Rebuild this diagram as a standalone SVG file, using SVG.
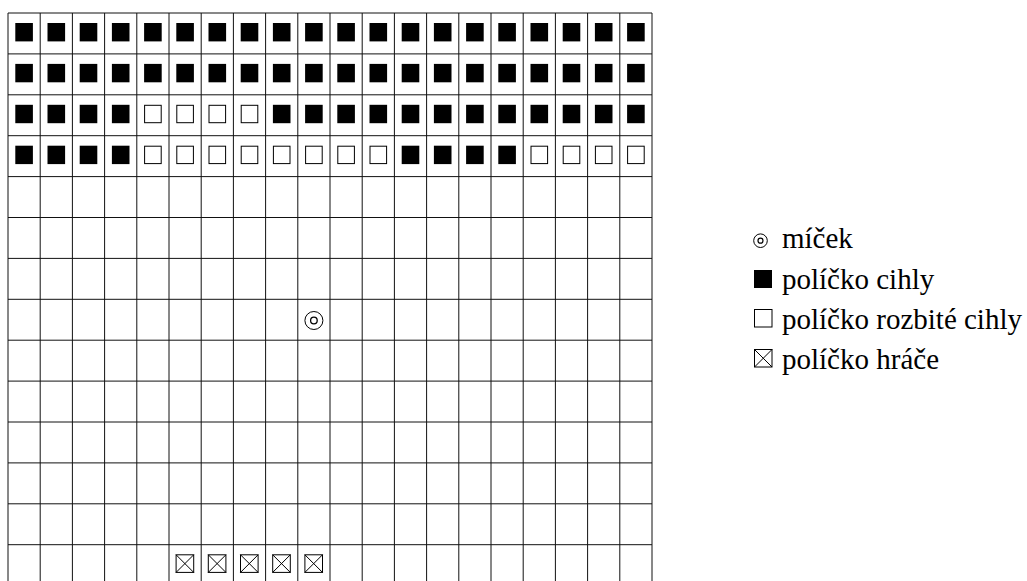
<svg xmlns="http://www.w3.org/2000/svg" xmlns:xlink="http://www.w3.org/1999/xlink" width="1027" height="581" viewBox="0 0 1027 581">
<style>
.grid{stroke:#111;stroke-width:1;fill:none}
.lbl{font-family:"Liberation Serif","DejaVu Serif",serif;font-size:29px;fill:#000}
.sym{fill:none;stroke:#000;stroke-width:1}
</style>
<defs>
<rect id="brick" width="17.6" height="18.4" fill="#000"/>
<rect id="empty" x="0.5" y="0.5" width="16.6" height="17.4" class="sym"/>
<g id="player" class="sym"><rect x="0.5" y="0.5" width="17.6" height="17.6"/><path d="M0.5 0.5L18.1 18.1M18.1 0.5L0.5 18.1"/></g>
</defs>
<rect width="1027" height="581" fill="#fff"/>
<g id="grid" class="grid">
<path d="M8 13V586M40.2 13V586M72.4 13V586M104.6 13V586M136.8 13V586M169 13V586M201.2 13V586M233.4 13V586M265.6 13V586M297.8 13V586M330 13V586M362.2 13V586M394.4 13V586M426.6 13V586M458.8 13V586M491 13V586M523.2 13V586M555.4 13V586M587.6 13V586M619.8 13V586M652 13V586"/>
<path d="M8 13H652M8 53.9H652M8 94.8H652M8 135.7H652M8 176.6H652M8 217.5H652M8 258.4H652M8 299.3H652M8 340.2H652M8 381.1H652M8 422H652M8 462.9H652M8 503.8H652M8 544.7H652"/>
</g>
<g id="bricks">
<g id="row1">
<use href="#brick" x="15.3" y="23"/><use href="#brick" x="47.5" y="23"/><use href="#brick" x="79.7" y="23"/><use href="#brick" x="111.9" y="23"/><use href="#brick" x="144.1" y="23"/><use href="#brick" x="176.3" y="23"/><use href="#brick" x="208.5" y="23"/><use href="#brick" x="240.7" y="23"/><use href="#brick" x="272.9" y="23"/><use href="#brick" x="305.1" y="23"/><use href="#brick" x="337.3" y="23"/><use href="#brick" x="369.5" y="23"/><use href="#brick" x="401.7" y="23"/><use href="#brick" x="433.9" y="23"/><use href="#brick" x="466.1" y="23"/><use href="#brick" x="498.3" y="23"/><use href="#brick" x="530.5" y="23"/><use href="#brick" x="562.7" y="23"/><use href="#brick" x="594.9" y="23"/><use href="#brick" x="627.1" y="23"/>
</g>
<g id="row2">
<use href="#brick" x="15.3" y="63.9"/><use href="#brick" x="47.5" y="63.9"/><use href="#brick" x="79.7" y="63.9"/><use href="#brick" x="111.9" y="63.9"/><use href="#brick" x="144.1" y="63.9"/><use href="#brick" x="176.3" y="63.9"/><use href="#brick" x="208.5" y="63.9"/><use href="#brick" x="240.7" y="63.9"/><use href="#brick" x="272.9" y="63.9"/><use href="#brick" x="305.1" y="63.9"/><use href="#brick" x="337.3" y="63.9"/><use href="#brick" x="369.5" y="63.9"/><use href="#brick" x="401.7" y="63.9"/><use href="#brick" x="433.9" y="63.9"/><use href="#brick" x="466.1" y="63.9"/><use href="#brick" x="498.3" y="63.9"/><use href="#brick" x="530.5" y="63.9"/><use href="#brick" x="562.7" y="63.9"/><use href="#brick" x="594.9" y="63.9"/><use href="#brick" x="627.1" y="63.9"/>
</g>
<g id="row3">
<use href="#brick" x="15.3" y="104.8"/><use href="#brick" x="47.5" y="104.8"/><use href="#brick" x="79.7" y="104.8"/><use href="#brick" x="111.9" y="104.8"/>
<use href="#empty" x="144.1" y="104.8"/><use href="#empty" x="176.3" y="104.8"/><use href="#empty" x="208.5" y="104.8"/><use href="#empty" x="240.7" y="104.8"/>
<use href="#brick" x="272.9" y="104.8"/><use href="#brick" x="305.1" y="104.8"/><use href="#brick" x="337.3" y="104.8"/><use href="#brick" x="369.5" y="104.8"/><use href="#brick" x="401.7" y="104.8"/><use href="#brick" x="433.9" y="104.8"/><use href="#brick" x="466.1" y="104.8"/><use href="#brick" x="498.3" y="104.8"/><use href="#brick" x="530.5" y="104.8"/><use href="#brick" x="562.7" y="104.8"/><use href="#brick" x="594.9" y="104.8"/><use href="#brick" x="627.1" y="104.8"/>
</g>
<g id="row4">
<use href="#brick" x="15.3" y="145.7"/><use href="#brick" x="47.5" y="145.7"/><use href="#brick" x="79.7" y="145.7"/><use href="#brick" x="111.9" y="145.7"/>
<use href="#empty" x="144.1" y="145.7"/><use href="#empty" x="176.3" y="145.7"/><use href="#empty" x="208.5" y="145.7"/><use href="#empty" x="240.7" y="145.7"/><use href="#empty" x="272.9" y="145.7"/><use href="#empty" x="305.1" y="145.7"/><use href="#empty" x="337.3" y="145.7"/><use href="#empty" x="369.5" y="145.7"/>
<use href="#brick" x="401.7" y="145.7"/><use href="#brick" x="433.9" y="145.7"/><use href="#brick" x="466.1" y="145.7"/><use href="#brick" x="498.3" y="145.7"/>
<use href="#empty" x="530.5" y="145.7"/><use href="#empty" x="562.7" y="145.7"/><use href="#empty" x="594.9" y="145.7"/><use href="#empty" x="627.1" y="145.7"/>
</g>
</g>
<g id="ball" class="sym"><circle cx="313.9" cy="320.5" r="9"/><circle cx="313.9" cy="320.5" r="3.3" stroke-width="1.3"/></g>
<g id="players">
<use href="#player" x="175.6" y="554.3"/><use href="#player" x="207.8" y="554.3"/><use href="#player" x="240" y="554.3"/><use href="#player" x="272.2" y="554.3"/><use href="#player" x="304.4" y="554.3"/>
</g>
<g id="legend">
<g id="leg-ball" class="sym"><circle cx="760.5" cy="240.7" r="6.8"/><circle cx="760.5" cy="240.7" r="2.5" stroke-width="1.2"/></g>
<text class="lbl" x="782" y="248">míček</text>
<rect id="leg-brick" x="754" y="270" width="18" height="18" fill="#000"/>
<text class="lbl" x="782" y="289">políčko cihly</text>
<rect id="leg-empty" x="754.5" y="309.5" width="17.5" height="17.5" class="sym"/>
<text class="lbl" x="782" y="329">políčko rozbité cihly</text>
<g id="leg-player" class="sym"><rect x="754.5" y="349.5" width="17.5" height="17.5"/><path d="M754.5 349.5L772 367M772 349.5L754.5 367"/></g>
<text class="lbl" x="782" y="369">políčko hráče</text>
</g>
</svg>
